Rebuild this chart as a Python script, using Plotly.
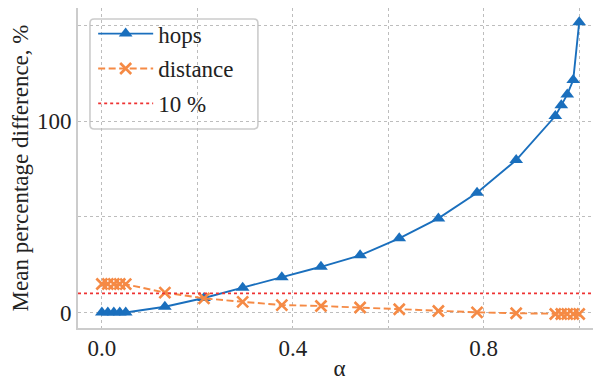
import plotly.graph_objects as go

# ---- data ----
alpha = [0.0, 0.0125, 0.025, 0.0375, 0.05, 0.132, 0.214, 0.295, 0.377, 0.459,
         0.541, 0.623, 0.705, 0.786, 0.868, 0.95, 0.9625, 0.975, 0.9875, 1.0]
hops = [0.0, 0.0, 0.0, 0.0, 0.0, 3.0, 7.6, 13.0, 18.4, 23.9,
        29.9, 38.8, 49.2, 62.6, 79.7, 102.7, 108.3, 114.0, 121.5, 151.7]
distance = [14.9, 14.9, 14.9, 14.9, 14.8, 10.4, 7.4, 5.6, 3.9, 3.4,
            2.6, 1.7, 0.8, 0.1, -0.4, -0.8, -0.8, -0.8, -0.8, -0.8]
threshold = 10
x_limits = [-0.05, 1.0457]
y_limits = [-8.1, 159.2]
x_ticks = [0.0, 0.2, 0.4, 0.6, 0.8, 1.0]
x_tick_labels = ["0.0", "", "0.4", "", "0.8", ""]
y_ticks = [0, 50, 100, 150]
y_tick_labels = ["0", "", "100", ""]

BLUE = "#1a6fbd"
ORANGE = "#f58a45"
RED = "#ee3333"
FONT = "Liberation Serif, Times New Roman, serif"
FS = 23

fig = go.Figure()
fig.add_trace(go.Scatter(
    x=alpha, y=hops, name="hops", mode="lines+markers",
    line=dict(color=BLUE, width=1.9),
    marker=dict(symbol="triangle-up", size=12, color=BLUE),
    legendgroup="a",
))
fig.add_trace(go.Scatter(
    x=alpha, y=distance, name="distance", mode="lines+markers",
    line=dict(color=ORANGE, width=1.9, dash="7px,3.5px"),
    marker=dict(symbol="x-thin-open", size=11, color=ORANGE,
                line=dict(color=ORANGE, width=2.6)),
    legendgroup="b",
))
fig.add_trace(go.Scatter(
    x=x_limits, y=[threshold, threshold], name="10 %", mode="lines",
    line=dict(color=RED, width=1.6, dash="dot"),
    legendgroup="c",
))

grid = dict(showgrid=True, gridcolor="#bdbdbd", gridwidth=1.3, griddash="dot",
            zeroline=False, ticks="", automargin=False,
            tickfont=dict(family=FONT, size=FS, color="#222222"),
            linecolor="#cccccc", linewidth=2, showline=True)

# legend frame (rounded box) in paper coordinates
bx0, bx1, by0, by1 = 0.0229, 0.344, 0.622, 0.9656
rx, ry = 0.008, 0.013
box_path = (f"M {bx0+rx},{by1} L {bx1-rx},{by1} Q {bx1},{by1} {bx1},{by1-ry} "
            f"L {bx1},{by0+ry} Q {bx1},{by0} {bx1-rx},{by0} "
            f"L {bx0+rx},{by0} Q {bx0},{by0} {bx0},{by0+ry} "
            f"L {bx0},{by1-ry} Q {bx0},{by1} {bx0+rx},{by1} Z")

fig.update_layout(
    width=593, height=373,
    margin=dict(l=70, r=0, t=0, b=53, autoexpand=False),
    paper_bgcolor="white", plot_bgcolor="white",
    font=dict(family=FONT, size=FS, color="#222222"),
    xaxis=dict(range=x_limits, tickvals=x_ticks, ticktext=x_tick_labels,
               mirror=True, ticklabelstandoff=-2,
               title=dict(text="α", font=dict(family=FONT, size=FS), standoff=0),
               **grid),
    yaxis=dict(range=y_limits, tickvals=y_ticks, ticktext=y_tick_labels,
               mirror=False, ticklabelstandoff=0,
               title=dict(text="Mean percentage difference, %",
                          font=dict(family=FONT, size=FS), standoff=4),
               **grid),
    shapes=[dict(type="path", path=box_path, xref="paper", yref="paper",
                 fillcolor="white", line=dict(color="#cccccc", width=1.6),
                 layer="between")],
    showlegend=True,
    legend=dict(x=0.029, y=0.987, xanchor="left", yanchor="top",
                bgcolor="rgba(0,0,0,0)", borderwidth=0,
                font=dict(family=FONT, size=FS, color="#222222"),
                itemwidth=55, tracegroupgap=2),
)

fig.write_html("out.html")
